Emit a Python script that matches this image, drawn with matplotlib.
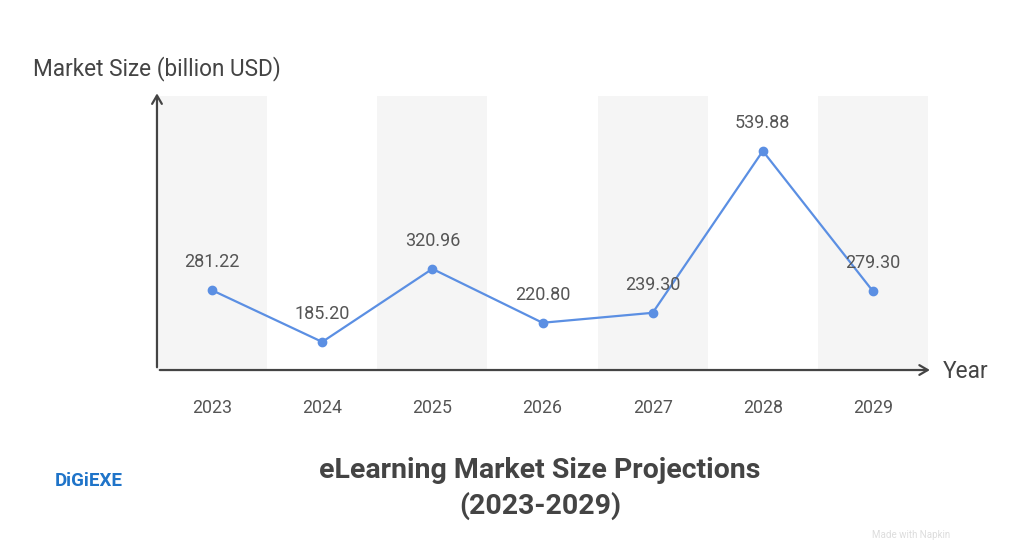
import matplotlib
matplotlib.use("Agg")
import matplotlib.pyplot as plt

years = ["2023", "2024", "2025", "2026", "2027", "2028", "2029"]
market_size = [281.22, 185.20, 320.96, 220.80, 239.30, 539.88, 279.30]

plt.rcParams["font.family"] = ["Roboto", "DejaVu Sans"]

fig = plt.figure(figsize=(10.24, 5.42), dpi=100)
ax = fig.add_axes([0.1533, 0.3173, 0.7530, 0.5055])

xs = list(range(len(years)))

# alternating shaded columns
for i in xs[::2]:
    ax.axvspan(i - 0.5, i + 0.5, color="#f5f5f5", zorder=0, lw=0)

ax.plot(xs, market_size, color="#5b8fe3", lw=1.6, marker="o", ms=6, zorder=3)
for x, v in zip(xs, market_size):
    ax.annotate(f"{v:.2f}", (x, v), xytext=(0, 20), textcoords="offset points",
                ha="center", va="center", fontsize=13, color="#555555")

ax.set_xlim(-0.5, 6.5)
ax.set_ylim(133, 642)
ax.set_xticks(xs, years)
ax.set_yticks([])
ax.tick_params(axis="x", length=0, pad=21, labelsize=12.8, labelcolor="#555555")
for s in ax.spines.values():
    s.set_visible(False)

# arrowed axes
arrow = dict(arrowstyle="->,head_length=0.6,head_width=0.35", color="#444444", lw=1.6)
ax.annotate("", xy=(0, 1.02), xytext=(0, 0), xycoords="axes fraction",
            textcoords="axes fraction", arrowprops=arrow, annotation_clip=False)
ax.annotate("", xy=(1.006, 0), xytext=(0, 0), xycoords="axes fraction",
            textcoords="axes fraction", arrowprops=arrow, annotation_clip=False)

fig.text(33 / 1024, 1 - 69 / 542, "Market Size (billion USD)", fontsize=16.3,
         color="#444444", ha="left", va="center")
fig.text(943 / 1024, 1 - 371 / 542, "Year", fontsize=16.3,
         color="#444444", ha="left", va="center")

fig.text(540 / 1024, 1 - 470 / 542, "eLearning Market Size Projections",
         fontsize=20.5, fontweight="bold", color="#444444", ha="center", va="center")
fig.text(540 / 1024, 1 - 506 / 542, "(2023-2029)",
         fontsize=20.5, fontweight="bold", color="#444444", ha="center", va="center")

fig.text(55 / 1024, 1 - 481 / 542, "DiGiEXE", fontsize=13.5, fontweight="bold",
         color="#1f74c9", ha="left", va="center")
fig.text(872 / 1024, 1 - 535 / 542, "Made with Napkin", fontsize=7,
         color="#dddddd", ha="left", va="center")

fig.savefig("out.png", dpi=100, facecolor="white")
